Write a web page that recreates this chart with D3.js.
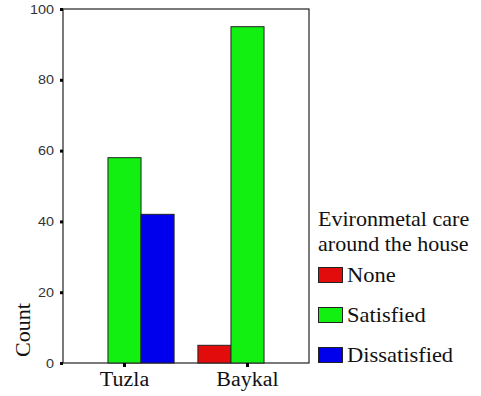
<!DOCTYPE html>
<html>
<head>
<meta charset="utf-8">
<script src="https://cdn.jsdelivr.net/npm/d3@7"></script>
<style>
  body { margin: 0; background: #fff; }
</style>
</head>
<body>
<div id="chart"></div>
<script>
let categories = ['Tuzla', 'Baykal'];
let groups = ['None', 'Satisfied', 'Dissatisfied'];
let noneValues = [0, 5];
let satisfiedValues = [58, 95];
let dissatisfiedValues = [42, 0];
let yTicks = [0, 20, 40, 60, 80, 100];
let colors = ['#e30c0c', '#12f012', '#0000ec'];
let legendTitle = ['Evironmetal care', 'around the house'];

let width = 481;
let height = 396;
let margin = {top: 9, right: 172, bottom: 33, left: 63};
let serif = '"Liberation Serif", "Times New Roman", serif';

let series = [noneValues, satisfiedValues, dissatisfiedValues];

// the original picture is a bit stretched sideways, so widen text to match
function stretch(sel, k) {
  sel.each(function() {
    let w = this.getComputedTextLength();
    d3.select(this)
      .attr('textLength', w * k)
      .attr('lengthAdjust', 'spacingAndGlyphs');
  });
}

let svg = d3.select('#chart').append('svg')
  .attr('width', width)
  .attr('height', height);

let x = d3.scaleBand()
  .domain(categories)
  .range([margin.left, width - margin.right])
  .padding(0);

let xInner = d3.scaleBand()
  .domain(groups)
  .range([0, x.bandwidth()])
  .paddingOuter(0.36)
  .paddingInner(0);

let y = d3.scaleLinear()
  .domain([0, 100])
  .range([height - margin.bottom, margin.top]);

// frame
svg.append('rect')
  .attr('x', margin.left)
  .attr('y', margin.top)
  .attr('width', width - margin.right - margin.left)
  .attr('height', height - margin.bottom - margin.top)
  .style('fill', 'none')
  .style('stroke', '#222')
  .style('stroke-width', 1.2);

// bars
categories.forEach((c, ci) => {
  series.forEach((vals, gi) => {
    let v = vals[ci];
    if (!v) return;
    svg.append('rect')
      .attr('x', x(c) + xInner(groups[gi]))
      .attr('y', y(v))
      .attr('width', xInner.bandwidth())
      .attr('height', y(0) - y(v))
      .style('fill', colors[gi])
      .style('stroke', '#222')
      .style('stroke-width', 1);
  });
});

// y axis
let yAxis = svg.append('g')
  .attr('transform', `translate(${margin.left},0)`)
  .call(d3.axisLeft(y).tickValues(yTicks).tickSize(0).tickPadding(9));
yAxis.select('.domain').remove();
yAxis.selectAll('text')
  .style('font-family', 'Arial, "Liberation Sans", sans-serif')
  .style('font-size', '12.5px')
  .style('fill', '#333')
  .call(stretch, 1.15);
yAxis.selectAll('.tick').append('rect')
  .attr('x', -3).attr('y', -1.5).attr('width', 3).attr('height', 3)
  .style('fill', '#000');

// x axis
let xAxis = svg.append('g')
  .attr('transform', `translate(0,${height - margin.bottom})`)
  .call(d3.axisBottom(x).tickSize(0).tickPadding(9));
xAxis.select('.domain').remove();
xAxis.selectAll('text')
  .style('font-family', serif)
  .style('font-size', '20px')
  .style('fill', '#111')
  .call(stretch, 1.1);
xAxis.selectAll('.tick').append('rect')
  .attr('x', -1.5).attr('y', 0).attr('width', 3).attr('height', 4)
  .style('fill', '#000');

// y label
svg.append('text')
  .attr('transform', 'translate(30,330) rotate(-90)')
  .attr('text-anchor', 'middle')
  .style('font-family', serif)
  .style('font-size', '21px')
  .style('fill', '#111')
  .text('Count')
  .call(stretch, 1.05);

// legend
let legend = svg.append('g')
  .attr('transform', 'translate(318,0)');

legendTitle.forEach((t, i) => {
  legend.append('text')
    .attr('x', 0)
    .attr('y', 226 + i * 25)
    .style('font-family', serif)
    .style('font-size', '21px')
    .style('fill', '#111')
    .text(t)
    .call(stretch, 1.05);
});

groups.forEach((g, i) => {
  let cy = 275 + i * 40;
  legend.append('rect')
    .attr('x', 0.5)
    .attr('y', cy - 7.5)
    .attr('width', 24)
    .attr('height', 15)
    .style('fill', colors[i])
    .style('stroke', '#222')
    .style('stroke-width', 1);
  legend.append('text')
    .attr('x', 29)
    .attr('y', cy + 7)
    .style('font-family', serif)
    .style('font-size', '21px')
    .style('fill', '#111')
    .text(g)
    .call(stretch, 1.07);
});
</script>
</body>
</html>
